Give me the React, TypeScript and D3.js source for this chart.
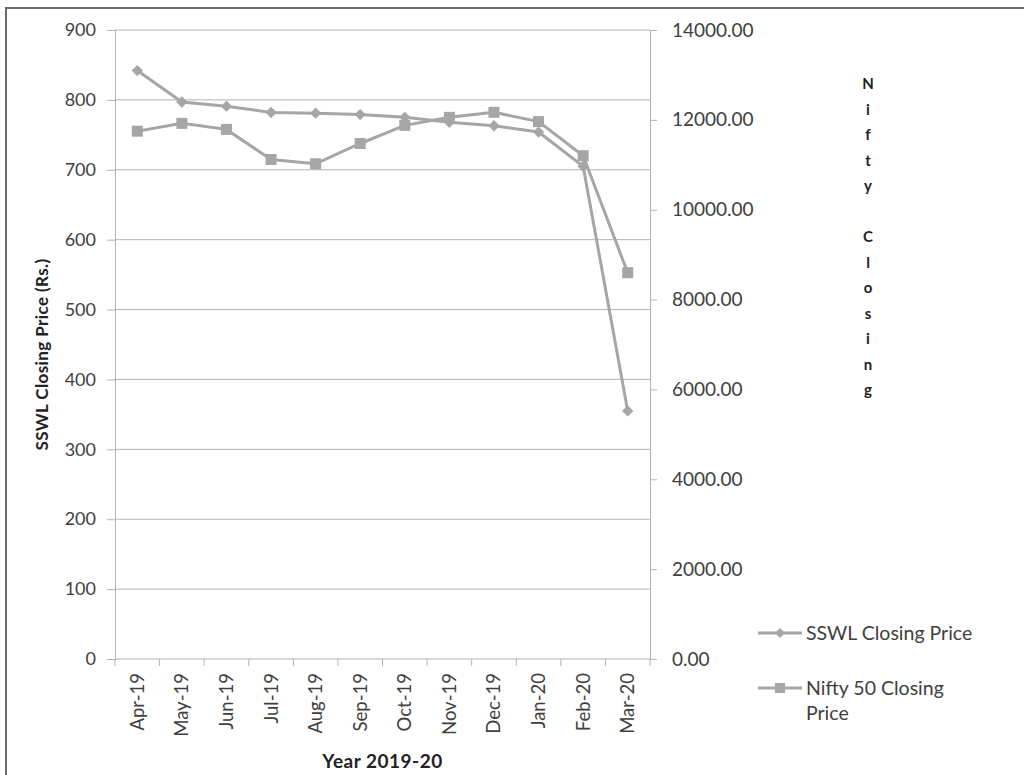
import { useRef, useEffect } from "react";
import * as d3 from "d3";

const months = ["Apr-19", "May-19", "Jun-19", "Jul-19", "Aug-19", "Sep-19", "Oct-19", "Nov-19", "Dec-19", "Jan-20", "Feb-20", "Mar-20"];
const sswl = [842, 797, 791, 782, 781, 779, 775, 768, 763, 754, 705, 355];
const nifty = [11748, 11922, 11788, 11118, 11023, 11474, 11877, 12056, 12168, 11962, 11202, 8598];
const leftTicks = [0, 100, 200, 300, 400, 500, 600, 700, 800, 900];
const rightTicks = [0, 2000, 4000, 6000, 8000, 10000, 12000, 14000];
const rightTitle = "Nifty Closing";

const FONT = "Lato, 'Open Sans', sans-serif";
const LINE = "#a6a6a6";
const GRID = "#b3b3b3";
const TEXT = "#404040";

export default function App() {
  const svgRef = useRef<SVGSVGElement>(null);
  const width = 1024;
  const height = 775;
  const margin = { top: 30, left: 115, right: 374, bottom: 116 };
  const innerW = width - margin.left - margin.right;
  const innerH = height - margin.top - margin.bottom;

  useEffect(() => {
    if (!svgRef.current) return;
    const svg = d3.select(svgRef.current);
    svg.selectAll("*").remove();

    // outer frame
    svg.append("rect")
      .attr("x", 6).attr("y", 8)
      .attr("width", 1100).attr("height", 900)
      .attr("fill", "#fff")
      .attr("stroke", "#6b6b6b")
      .attr("stroke-width", 2);

    const g = svg.append("g").attr("transform", `translate(${margin.left},${margin.top})`);

    const x = d3.scaleBand<string>().domain(months).range([0, innerW]);
    const yL = d3.scaleLinear().domain([0, 900]).range([innerH, 0]);
    const yR = d3.scaleLinear().domain([0, 14000]).range([innerH, 0]);

    // grid lines
    g.append("g")
      .selectAll("line")
      .data(leftTicks.filter(d => d > 0))
      .join("line")
      .attr("x1", 0).attr("x2", innerW)
      .attr("y1", d => yL(d)).attr("y2", d => yL(d))
      .attr("stroke", GRID).attr("stroke-width", 1);

    // left axis
    g.append("g")
      .call(d3.axisLeft(yL).tickValues(leftTicks).tickSize(8).tickPadding(11).tickFormat(d3.format("d")))
      .call(s => s.select(".domain").attr("stroke", GRID))
      .call(s => s.selectAll(".tick line").attr("stroke", GRID))
      .call(s => s.selectAll(".tick text").attr("fill", TEXT).attr("font-size", "18px").attr("font-family", FONT));

    // right axis
    g.append("g")
      .attr("transform", `translate(${innerW},0)`)
      .call(d3.axisRight(yR).tickValues(rightTicks).tickSize(7).tickPadding(15).tickFormat(d3.format(".2f")))
      .call(s => s.select(".domain").attr("stroke", GRID))
      .call(s => s.selectAll(".tick line").attr("stroke", GRID))
      .call(s => s.selectAll(".tick text").attr("fill", TEXT).attr("font-size", "19px").attr("font-family", FONT));

    // bottom axis
    const bx = g.append("g").attr("transform", `translate(0,${innerH})`);
    bx.append("line").attr("x1", 0).attr("x2", innerW).attr("stroke", GRID);
    bx.selectAll("line.tk")
      .data(d3.range(months.length + 1))
      .join("line")
      .attr("class", "tk")
      .attr("x1", i => i * x.step()).attr("x2", i => i * x.step())
      .attr("y1", 0).attr("y2", 7)
      .attr("stroke", GRID);
    bx.selectAll("text")
      .data(months)
      .join("text")
      .attr("transform", d => `translate(${(x(d) as number) + x.bandwidth() / 2 + 6.5},14) rotate(-90)`)
      .attr("text-anchor", "end")
      .attr("fill", TEXT)
      .attr("font-size", "18.5px")
      .attr("font-family", FONT)
      .text(d => d);

    const cx = (d: string) => (x(d) as number) + x.bandwidth() / 2;

    // SSWL line (left axis)
    g.append("path")
      .datum(sswl)
      .attr("fill", "none")
      .attr("stroke", LINE)
      .attr("stroke-width", 3)
      .attr("d", d3.line<number>().x((_, i) => cx(months[i])).y(d => yL(d)));
    g.selectAll("path.dia")
      .data(sswl)
      .join("path")
      .attr("class", "dia")
      .attr("transform", (d, i) => `translate(${cx(months[i])},${yL(d)}) rotate(45)`)
      .attr("d", "M-4,-4H4V4H-4Z")
      .attr("fill", LINE);

    // Nifty line (right axis)
    g.append("path")
      .datum(nifty)
      .attr("fill", "none")
      .attr("stroke", LINE)
      .attr("stroke-width", 3)
      .attr("d", d3.line<number>().x((_, i) => cx(months[i])).y(d => yR(d)));
    g.selectAll("rect.sq")
      .data(nifty)
      .join("rect")
      .attr("class", "sq")
      .attr("x", (_, i) => cx(months[i]) - 5.5)
      .attr("y", d => yR(d) - 5.5)
      .attr("width", 11).attr("height", 11)
      .attr("fill", LINE);

    // axis titles
    svg.append("text")
      .attr("transform", `translate(48,${margin.top + innerH / 2 + 10}) rotate(-90)`)
      .attr("text-anchor", "middle")
      .attr("fill", "#222")
      .attr("font-size", "17px")
      .attr("letter-spacing", "0.4px")
      .attr("font-weight", "bold")
      .attr("font-family", FONT)
      .text("SSWL Closing Price (Rs.)");

    svg.append("text")
      .attr("x", margin.left + innerW / 2)
      .attr("y", 768)
      .attr("text-anchor", "middle")
      .attr("fill", "#222")
      .attr("font-size", "19px")
      .attr("letter-spacing", "0.5px")
      .attr("font-weight", "bold")
      .attr("font-family", FONT)
      .text("Year 2019-20");

    svg.append("g")
      .selectAll("text")
      .data(rightTitle.split(""))
      .join("text")
      .attr("x", 868)
      .attr("y", (_, i) => 89 + i * 25.5)
      .attr("text-anchor", "middle")
      .attr("fill", "#222")
      .attr("font-size", "15px")
      .attr("font-weight", "bold")
      .attr("font-family", FONT)
      .text(d => d);

    // legend
    const legend = svg.append("g").attr("font-family", FONT).attr("font-size", "19.5px").attr("fill", TEXT);
    const l1 = legend.append("g").attr("transform", "translate(758,633)");
    l1.append("line").attr("x1", 0).attr("x2", 44).attr("stroke", LINE).attr("stroke-width", 3);
    l1.append("path").attr("transform", "translate(22,0) rotate(45)").attr("d", "M-3.5,-3.5H3.5V3.5H-3.5Z").attr("fill", LINE);
    l1.append("text").attr("x", 48).attr("dy", "0.35em").text("SSWL Closing Price");

    const l2 = legend.append("g").attr("transform", "translate(758,688)");
    l2.append("line").attr("x1", 0).attr("x2", 44).attr("stroke", LINE).attr("stroke-width", 3);
    l2.append("rect").attr("x", 17).attr("y", -5).attr("width", 10).attr("height", 10).attr("fill", LINE);
    l2.append("text").attr("x", 48).attr("dy", "0.35em").text("Nifty 50 Closing");
    l2.append("text").attr("x", 48).attr("y", 25).attr("dy", "0.35em").text("Price");
  }, []);

  return (
    <svg
      ref={svgRef}
      width={width}
      height={height}
      style={{ position: "absolute", left: 0, top: 0, display: "block", background: "#fff" }}
    />
  );
}
